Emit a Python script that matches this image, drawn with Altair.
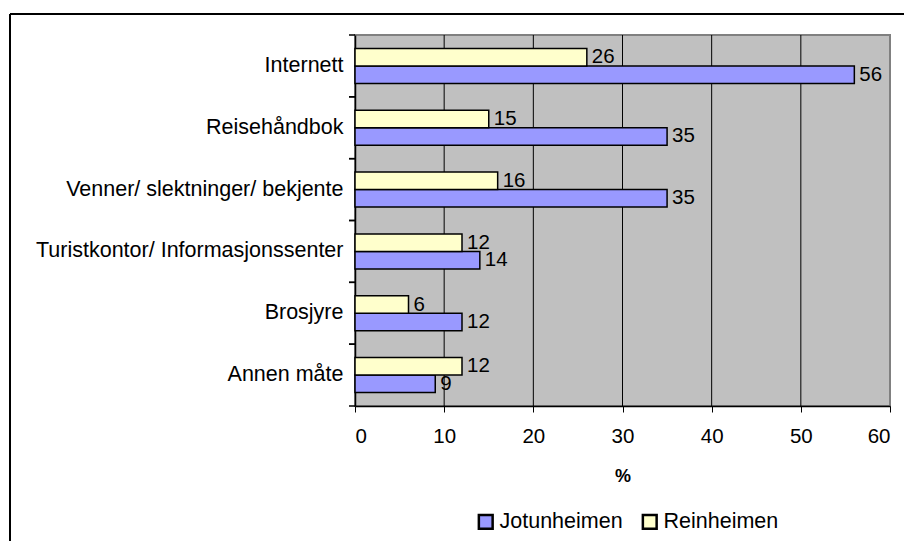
import altair as alt
import pandas as pd

categories = ["Internett", "Reisehåndbok", "Venner/ slektninger/ bekjente",
              "Turistkontor/ Informasjonssenter", "Brosjyre", "Annen måte"]
jotunheimen = [56, 35, 35, 14, 12, 9]
reinheimen = [26, 15, 16, 12, 6, 12]
series_names = ["Jotunheimen", "Reinheimen"]
colors = ["#9999FF", "#FFFFCC"]
x_ticks = [0, 10, 20, 30, 40, 50, 60]
grid_vals = [10, 20, 30, 40, 50]

rows = []
for c, j, r in zip(categories, jotunheimen, reinheimen):
    rows.append({"cat": c, "series": "Jotunheimen", "value": j})
    rows.append({"cat": c, "series": "Reinheimen", "value": r})
df = pd.DataFrame(rows)
cat_df = pd.DataFrame({"cat": categories})
grid_df = pd.DataFrame({"g": grid_vals})

FONT = "Liberation Sans"

y_enc = alt.Y("cat:N", sort=categories,
              scale=alt.Scale(paddingInner=0, paddingOuter=0),
              axis=alt.Axis(title=None, ticks=False, labelPadding=12, labelFontSize=21.5,
                            labelColor="black", labelFont=FONT, domainColor="black",
                            domainWidth=1.5, labelLimit=400))
x_scale = alt.Scale(domain=[0, 60], nice=False)
yoff = alt.YOffset("series:N", sort=["Reinheimen", "Jotunheimen"],
                   scale=alt.Scale(paddingInner=0, paddingOuter=0.77))

bars = alt.Chart(df).mark_bar(stroke="black", strokeWidth=1.5).encode(
    y=y_enc,
    x=alt.X("value:Q", scale=x_scale,
            axis=alt.Axis(values=x_ticks, title="%", titleFontWeight="bold", titleFontSize=18,
                          titleFont=FONT, titleColor="black", titlePadding=21,
                          labelFontSize=20.5, labelFont=FONT, labelColor="black",
                          labelPadding=14, tickSize=6, tickColor="black",
                          domainColor="black", domainWidth=1.5, grid=False)),
    yOffset=yoff,
    color=alt.Color("series:N", sort=series_names,
                    scale=alt.Scale(domain=series_names, range=colors),
                    legend=alt.Legend(title=None, orient="none", direction="horizontal",
                                      legendX=120, legendY=476, symbolType="square",
                                      symbolSize=190, symbolStrokeColor="black",
                                      symbolStrokeWidth=2.5, labelFontSize=21.5, labelFont=FONT,
                                      labelColor="black", labelOffset=3, columnPadding=14)),
)

labels = alt.Chart(df).mark_text(align="left", baseline="middle", dx=5, fontSize=20.5,
                                 font=FONT, color="black").encode(
    y=alt.Y("cat:N", sort=categories),
    x=alt.X("value:Q", scale=x_scale),
    yOffset=yoff,
    text="value:Q",
)

grid = alt.Chart(grid_df).mark_rule(color="black", strokeWidth=1).encode(
    x=alt.X("g:Q", scale=x_scale)
)

ticks_top = alt.Chart(cat_df).mark_rule(color="black", strokeWidth=1.5).encode(
    y=alt.Y("cat:N", sort=categories, bandPosition=0),
    x=alt.value(-6), x2=alt.value(0),
)
ticks_bottom = alt.Chart(cat_df).mark_rule(color="black", strokeWidth=1.5).encode(
    y=alt.Y("cat:N", sort=categories, bandPosition=1),
    x=alt.value(-6), x2=alt.value(0),
)

frame_top = alt.Chart(cat_df).mark_rule(color="black", strokeWidth=2).encode(
    x=alt.value(-345), x2=alt.value(600), y=alt.value(-21)
)
frame_left = alt.Chart(cat_df).mark_rule(color="black", strokeWidth=2).encode(
    x=alt.value(-345), y=alt.value(-21), y2=alt.value(600)
)

chart = alt.layer(grid, bars, labels, ticks_top, ticks_bottom, frame_top, frame_left).properties(
    width=535, height=371,
    padding={"left": 347, "top": 27, "right": 14, "bottom": 135},
    autosize=alt.AutoSizeParams(type="none"),
    background="white",
).configure_view(
    fill="#C0C0C0", stroke="#808080", strokeWidth=2
)

chart.save("out.html", embed_options={"renderer": "svg", "actions": False})
